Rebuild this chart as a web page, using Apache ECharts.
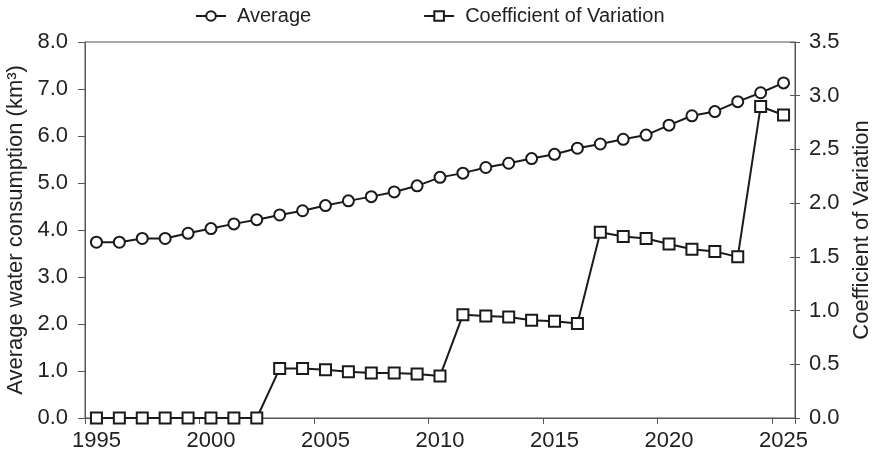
<!DOCTYPE html>
<html>
<head>
<meta charset="utf-8">
<script src="https://cdn.jsdelivr.net/npm/echarts@6/dist/echarts.min.js"></script>
<style>
  html, body { margin: 0; padding: 0; background: #fff; }
  #chart { width: 876px; height: 462px; }
</style>
</head>
<body>
<div id="chart"></div>
<script>
// Years (one category per year, points sit mid-year)
const years = [
  1995, 1996, 1997, 1998, 1999, 2000, 2001, 2002, 2003, 2004,
  2005, 2006, 2007, 2008, 2009, 2010, 2011, 2012, 2013, 2014,
  2015, 2016, 2017, 2018, 2019, 2020, 2021, 2022, 2023, 2024, 2025
];

// Average water consumption (km³)
const averageValues = [
  3.74, 3.74, 3.82, 3.82, 3.93, 4.03, 4.13, 4.22, 4.32, 4.41,
  4.52, 4.62, 4.71, 4.81, 4.94, 5.12, 5.21, 5.33, 5.42, 5.52,
  5.61, 5.74, 5.83, 5.93, 6.02, 6.23, 6.43, 6.52, 6.73, 6.92, 7.13
];

// Coefficient of variation
const cvValues = [
  0.00, 0.00, 0.00, 0.00, 0.00, 0.00, 0.00, 0.00, 0.46, 0.46,
  0.45, 0.43, 0.42, 0.42, 0.41, 0.39, 0.96, 0.95, 0.94, 0.91,
  0.90, 0.88, 1.73, 1.69, 1.67, 1.62, 1.57, 1.55, 1.50, 2.90, 2.82
];

const leftTicks = { min: 0, max: 8, interval: 1 };
const rightTicks = { min: 0, max: 3.5, interval: 0.5 };

const FONT = 'Liberation Sans, Arial, sans-serif';
const INK = '#1a1a1a';
const AXIS = '#555555';

const chart = echarts.init(document.getElementById('chart'), null, { renderer: 'canvas' });

chart.setOption({
  animation: false,
  backgroundColor: '#ffffff',
  textStyle: { fontFamily: FONT },
  legend: {
    top: 1,
    left: 190,
    itemGap: 112,
    itemWidth: 30,
    itemHeight: 12,
    textStyle: { fontFamily: FONT, fontSize: 20, color: '#222', padding: [0, 0, 0, 6] },
    data: ['Average', 'Coefficient of Variation']
  },
  grid: {
    left: 85, right: 81, top: 42, bottom: 44,
    outerBoundsMode: 'none',
    show: true, borderColor: AXIS, borderWidth: 1, backgroundColor: 'transparent'
  },
  xAxis: {
    type: 'category',
    data: years,
    boundaryGap: true,
    axisLine: { show: true, lineStyle: { color: AXIS, width: 1 } },
    axisTick: {
      show: true, inside: false, length: 6,
      interval: function (index) { return index % 5 === 0; },
      lineStyle: { color: AXIS }
    },
    axisLabel: {
      interval: 4, margin: 12,
      fontFamily: FONT, fontSize: 22, color: '#222'
    },
    splitLine: { show: false }
  },
  yAxis: [
    {
      type: 'value',
      position: 'left',
      min: leftTicks.min, max: leftTicks.max, interval: leftTicks.interval,
      name: 'Average water consumption (km³)',
      nameLocation: 'middle',
      nameGap: 58,
      nameTextStyle: { fontFamily: FONT, fontSize: 22, color: '#222' },
      axisLine: { show: true, lineStyle: { color: AXIS, width: 1 } },
      axisTick: { show: true, inside: false, length: 7, lineStyle: { color: AXIS } },
      axisLabel: {
        margin: 17, fontFamily: FONT, fontSize: 22, color: '#222',
        formatter: v => v.toFixed(1)
      },
      splitLine: { show: false }
    },
    {
      type: 'value',
      position: 'right',
      min: rightTicks.min, max: rightTicks.max, interval: rightTicks.interval,
      name: 'Coefficient of Variation',
      nameLocation: 'middle',
      nameGap: 56,
      nameRotate: 90,
      nameTextStyle: { fontFamily: FONT, fontSize: 22, color: '#222' },
      axisLine: { show: true, lineStyle: { color: AXIS, width: 1 } },
      axisTick: { show: true, inside: false, length: 5, lineStyle: { color: AXIS } },
      axisLabel: {
        margin: 14, fontFamily: FONT, fontSize: 22, color: '#222',
        formatter: v => v.toFixed(1)
      },
      splitLine: { show: false }
    },
    {
      // inner half of the right-hand cross ticks
      type: 'value',
      position: 'right',
      min: rightTicks.min, max: rightTicks.max, interval: rightTicks.interval,
      axisLine: { show: false },
      axisTick: { show: true, inside: true, length: 5, lineStyle: { color: AXIS } },
      axisLabel: { show: false },
      splitLine: { show: false }
    }
  ],
  series: [
    {
      name: 'Average',
      type: 'line',
      yAxisIndex: 0,
      data: averageValues,
      symbol: 'circle',
      symbolSize: 11,
      showAllSymbol: true,
      lineStyle: { color: INK, width: 2 },
      itemStyle: { color: '#ffffff', borderColor: INK, borderWidth: 2 },
      z: 3
    },
    {
      name: 'Coefficient of Variation',
      type: 'line',
      yAxisIndex: 1,
      data: cvValues,
      symbol: 'rect',
      symbolSize: 11,
      showAllSymbol: true,
      lineStyle: { color: INK, width: 2 },
      itemStyle: { color: '#ffffff', borderColor: INK, borderWidth: 2 },
      z: 3
    }
  ]
});
</script>
</body>
</html>
